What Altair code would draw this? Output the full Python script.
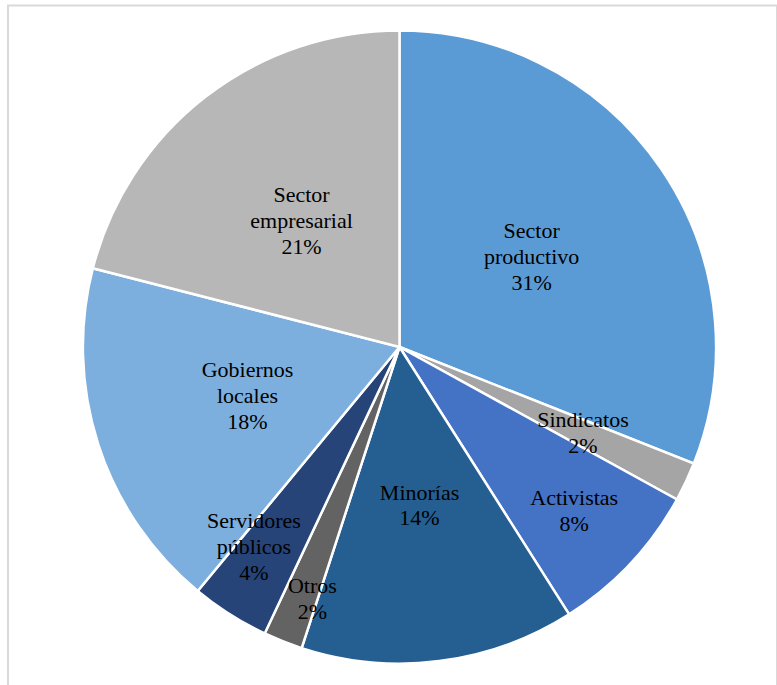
import altair as alt
import pandas as pd

categories = ["Sector productivo", "Sindicatos", "Activistas", "Minorías", "Otros",
              "Servidores públicos", "Gobiernos locales", "Sector empresarial"]
values = [31, 2, 8, 14, 2, 4, 18, 21]
colors = ["#5B9BD5", "#A5A5A5", "#4472C4", "#255E91", "#636363",
          "#264478", "#7CAFDD", "#B7B7B7"]

df = pd.DataFrame({"cat": categories, "val": values, "idx": list(range(len(categories)))})

CX, CY, R = 392, 342, 317
LH = 26
tscale = alt.Scale(domain=[0, 100], range=[0, 6.283185307])

base = alt.Chart(df).transform_window(
    cum="sum(val)", sort=[alt.SortField("idx")], frame=[None, 0]
).transform_calculate(
    start="datum.cum - datum.val",
    mid="datum.cum - datum.val / 2",
    lbl="split(replace(datum.cat, ' ', '|') + '|' + datum.val + '%', '|')",
).transform_calculate(
    # "best fit" style placement: small slices pushed outward, and the two
    # crowded lower-left ones spread apart a little
    lr="datum.val >= 10 ? 160 : (datum.mid < 35 ? 203 : (datum.val <= 2 ? 267 : (datum.mid > 50 ? 248 : 240)))",
    ang="(datum.mid + (datum.val < 10 && datum.mid > 50 ? (datum.val <= 2 ? -0.7 : 1.0) : 0)) / 100 * 2 * PI",
).transform_calculate(
    px=f"{CX} + datum.lr * sin(datum.ang)",
    py=f"{CY} - datum.lr * cos(datum.ang) - (length(datum.lbl) - 1) * {LH} / 2",
)

pie = base.mark_arc(outerRadius=R, stroke="white", strokeWidth=2.5).encode(
    theta=alt.Theta("start:Q", scale=tscale),
    theta2="cum:Q",
    color=alt.Color("cat:N", scale=alt.Scale(domain=categories, range=colors), legend=None),
    x=alt.value(CX), y=alt.value(CY),
)

labels = base.mark_text(
    font="Liberation Serif", fontSize=22, lineHeight=LH, color="black",
    align="center", baseline="middle",
).encode(
    text="lbl:N",
    x=alt.X("px:Q", scale=None),
    y=alt.Y("py:Q", scale=None),
)

chart = alt.layer(pie, labels).properties(
    width=770, height=690,
    autosize=alt.AutoSizeParams(type="none"),
    padding={"left": 8, "top": 5, "right": 0, "bottom": 0},
).configure(font="Liberation Serif").configure_view(stroke="#D9D9D9", strokeWidth=2)

chart.save("out.html", embed_options={"renderer": "svg", "actions": False})
